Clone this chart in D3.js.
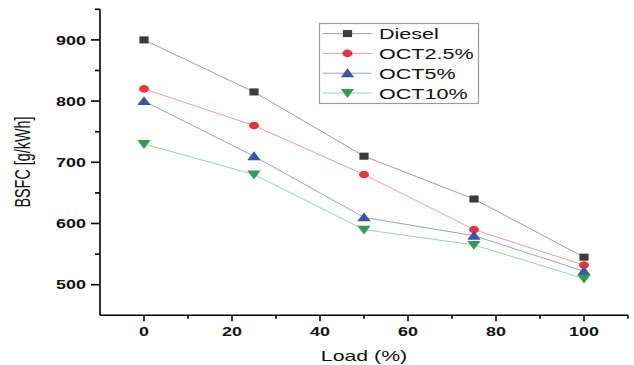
<!DOCTYPE html>
<html><head><meta charset="utf-8">
<script src="https://cdn.jsdelivr.net/npm/d3@7"></script>
<style>body{margin:0;background:#fff}svg{display:block}text{font-family:"Liberation Sans",Arial,sans-serif}</style>
</head><body><svg id="c" width="634" height="365"></svg>
<script>
const loads = [0, 25, 50, 75, 100];
const seriesNames = ["Diesel", "OCT2.5%", "OCT5%", "OCT10%"];
const diesel = [900, 815, 710, 640, 545];
const oct25 = [820, 760, 680, 590, 532];
const oct5 = [800, 710, 610, 580, 522];
const oct10 = [730, 680, 590, 565, 510];
const xTicks = [0, 20, 40, 60, 80, 100];
const yTicks = [500, 600, 700, 800, 900];
const xMinor = [10, 30, 50, 70, 90, 110];
const yMinor = [550, 650, 750, 850, 950];

const markerColors = ["#3d3b3a", "#e8343c", "#3b54a5", "#2f9c57"];
const lineColors = ["#a39d99", "#f49a9c", "#8ea4dc", "#9ad3a8"];
const shapes = [d3.symbolSquare, d3.symbolCircle, d3.symbolTriangle, "down"];
const SX = 1.4;

const svg = d3.select("#c");
const x = d3.scaleLinear().domain([-10, 110]).range([100, 628]);
const y = d3.scaleLinear().domain([450, 950]).range([315.3, 9.3]);

// axes
const ax = svg.append("g").attr("stroke", "#000").attr("stroke-width", 1.6);
ax.append("line").attr("x1", x(-10)).attr("x2", x(110)).attr("y1", y(450)).attr("y2", y(450));
ax.append("line").attr("x1", x(-10)).attr("x2", x(-10)).attr("y1", y(450)).attr("y2", y(950));
xTicks.forEach(t => ax.append("line").attr("x1", x(t)).attr("x2", x(t)).attr("y1", y(450)).attr("y2", y(450) + 6));
xMinor.forEach(t => ax.append("line").attr("x1", x(t)).attr("x2", x(t)).attr("y1", y(450)).attr("y2", y(450) + 3.5));
yTicks.forEach(t => ax.append("line").attr("x1", x(-10)).attr("x2", x(-10) - 9).attr("y1", y(t)).attr("y2", y(t)));
yMinor.forEach(t => ax.append("line").attr("x1", x(-10)).attr("x2", x(-10) - 5).attr("y1", y(t)).attr("y2", y(t)));

function stext(g, str, px, py, size, anchor, weight) {
  return g.append("text").attr("transform", `translate(${px},${py}) scale(${SX},1)`)
    .attr("text-anchor", anchor).attr("font-size", size).attr("font-weight", weight || "normal")
    .attr("fill", "#111").text(str);
}
xTicks.forEach(t => stext(svg, t, x(t), 335.5, 12.8, "middle", "bold"));
yTicks.forEach(t => stext(svg, t, 86, y(t) + 4.6, 12.8, "end", "bold"));
stext(svg, "Load (%)", 364, 361, 15.2, "middle");
svg.append("text").attr("transform", `translate(30,162) scale(1.5,1) rotate(-90)`)
  .attr("text-anchor", "middle").attr("font-size", 14.4).attr("fill", "#111").text("BSFC [g/kWh]");

// markers
function marker(g, shapeIdx, cx, cy, color) {
  const s = shapes[shapeIdx];
  let path, rot = 0;
  if (s === "down") { path = d3.symbol(d3.symbolTriangle, 46)(); rot = 180; }
  else if (s === d3.symbolSquare) path = d3.symbol(s, 50)();
  else path = d3.symbol(s, 46)();
  g.append("path").attr("d", path).attr("fill", color)
    .attr("transform", `translate(${cx},${cy}) scale(1.3,1) rotate(${rot})`);
}

const allSeries = [diesel, oct25, oct5, oct10];
const line = d3.line().x((d, i) => x(loads[i])).y(d => y(d));
allSeries.forEach((vals, k) => {
  svg.append("path").attr("d", line(vals)).attr("fill", "none").attr("stroke", lineColors[k]).attr("stroke-width", 1);
});
allSeries.forEach((vals, k) => {
  const g = svg.append("g");
  vals.forEach((v, i) => marker(g, k, x(loads[i]), y(v) + (k === 2 ? 1 : k === 3 ? -1 : 0), markerColors[k]));
});

// legend
const lg = svg.append("g");
lg.append("rect").attr("x", 319.5).attr("y", 23.5).attr("width", 159).attr("height", 80)
  .attr("fill", "#fff").attr("stroke", "#9a9a9a").attr("stroke-width", 1.2);
seriesNames.forEach((n, k) => {
  const ry = 33.6 + k * 19.8;
  lg.append("line").attr("x1", 322.7).attr("x2", 371.7).attr("y1", ry).attr("y2", ry).attr("stroke", lineColors[k]).attr("stroke-width", 1);
  marker(lg, k, 347.5, ry + (k === 2 ? 1 : k === 3 ? -1 : 0), markerColors[k]);
  stext(lg, n, 379, ry + 5.6, 15.4, "start");
});
</script></body></html>
